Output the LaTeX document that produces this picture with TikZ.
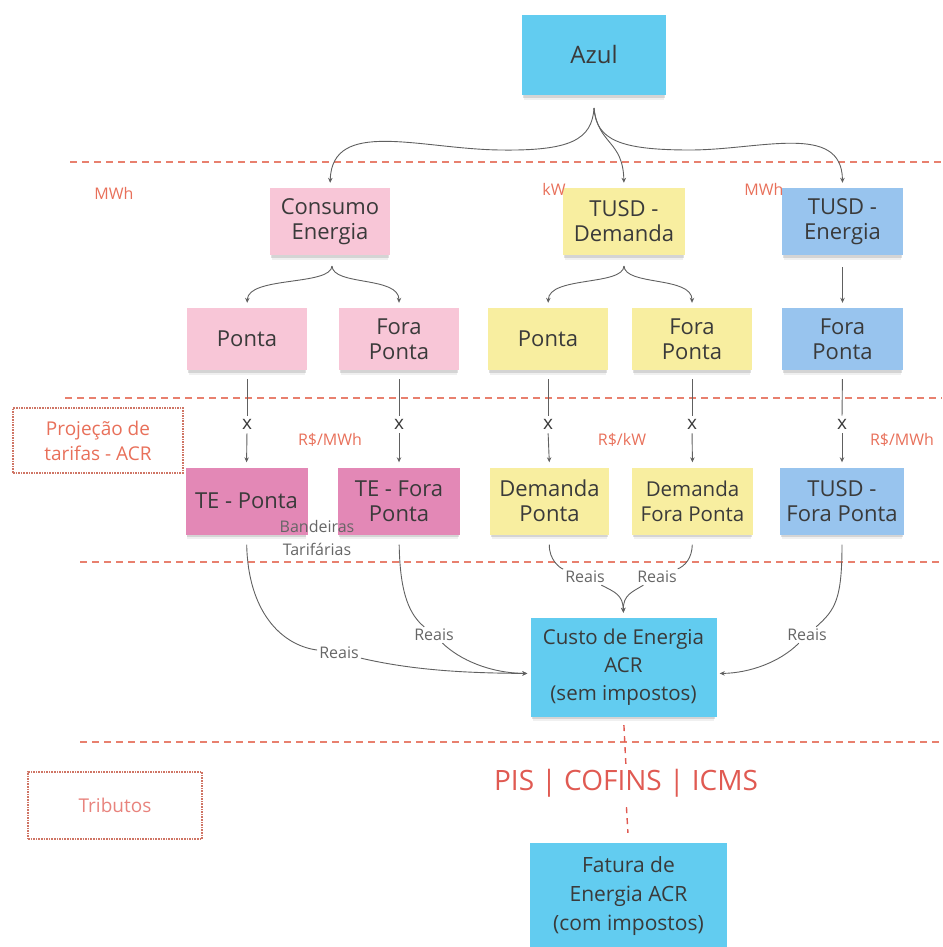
\documentclass[tikz,border=0pt]{standalone}
\usepackage{fontspec}
\setmainfont{Open Sans}
\usetikzlibrary{arrows.meta,shadows}

\definecolor{cyanbox}{HTML}{62CCF0}
\definecolor{pinkbox}{HTML}{F8C6D7}
\definecolor{magbox}{HTML}{E388B6}
\definecolor{yellowbox}{HTML}{F8EEA0}
\definecolor{bluebox}{HTML}{98C4EE}
\definecolor{ink}{HTML}{3A3A3A}
\definecolor{wire}{HTML}{606060}
\definecolor{unitred}{HTML}{E8705A}
\definecolor{sepline}{HTML}{E8806E}
\definecolor{framered}{HTML}{CF7565}
\definecolor{taxred}{HTML}{E05A52}
\definecolor{flaggray}{HTML}{666666}

\newcommand{\fs}[2]{\fontsize{#1}{#2}\selectfont}

\begin{document}
\begin{tikzpicture}[x=1pt,y=-1pt,
  note/.style={rectangle, inner sep=0pt, align=center, text=ink,
    drop shadow={shadow xshift=0pt, shadow yshift=-6pt, opacity=0.12, shadow scale=0.97},
    drop shadow={shadow xshift=0pt, shadow yshift=-3.5pt, opacity=0.25, shadow scale=0.98}},
  big/.style={font=\fs{22}{25}},
  unit/.style={text=unitred, font=\fs{16}{18}, inner sep=1pt},
  mult/.style={text=ink, font=\fs{19}{20}, inner sep=1pt},
  money/.style={text=flaggray, font=\fs{16}{18}, inner sep=2pt},
  frame/.style={draw=framered, densely dotted, line width=1.6pt, rectangle, inner sep=0pt, align=center},
  sep/.style={draw=sepline, line width=1.6pt, dash pattern=on 7pt off 5pt},
  conn/.style={draw=wire, line width=0.9pt},
  arr/.style={conn, -{Stealth[length=5pt,width=4.5pt]}, shorten >=5pt},
]
\useasboundingbox (0,0) rectangle (942,947);

% separators between the levels
\draw[sep] (70,162) -- (942,162);
\draw[sep] (65,398) -- (942,398);
\draw[sep] (80,562) -- (942,562);
\draw[sep] (80,742) -- (942,742);

% top level
\node[note, fill=cyanbox, minimum width=144pt, minimum height=80pt, font=\fs{24}{28}] (azul) at (594,55) {Azul};

% first split
\node[note, big, fill=pinkbox, minimum width=120pt, minimum height=67pt] (cons) at (330,221.5) {Consumo\\Energia};
\node[note, big, fill=yellowbox, minimum width=122pt, minimum height=67pt] (tdem) at (624,221.5) {TUSD -\\Demanda};
\node[note, big, fill=bluebox, minimum width=121pt, minimum height=67pt] (tene) at (842.5,221.5) {TUSD -\\Energia};

\node[unit] (u1) at (114,193) {MWh};
\node[unit] (u2) at (554,189) {kW};
\node[unit] (u3) at (764,189) {MWh};

% time-of-use split
\node[note, big, fill=pinkbox, minimum width=120pt, minimum height=62pt] (p1) at (247,339) {Ponta};
\node[note, big, fill=pinkbox, minimum width=120pt, minimum height=62pt] (f1) at (399,339) {Fora\\Ponta};
\node[note, big, fill=yellowbox, minimum width=120pt, minimum height=62pt] (p2) at (548,339) {Ponta};
\node[note, big, fill=yellowbox, minimum width=120pt, minimum height=62pt] (f2) at (692,339) {Fora\\Ponta};
\node[note, big, fill=bluebox, minimum width=121pt, minimum height=62pt] (f3) at (842.5,339) {Fora\\Ponta};

% tariffs
\node[note, big, fill=magbox, minimum width=122pt, minimum height=67pt] (te1) at (246.5,501) {TE - Ponta};
\node[note, big, fill=magbox, minimum width=122pt, minimum height=67pt] (te2) at (399,501) {TE - Fora\\Ponta};
\node[note, big, fill=yellowbox, minimum width=119pt, minimum height=67pt] (d1) at (549.5,501) {Demanda\\Ponta};
\node[note, fill=yellowbox, minimum width=121pt, minimum height=67pt, font=\fs{20.5}{25}] (d2) at (692.5,501) {Demanda\\Fora Ponta};
\node[note, big, fill=bluebox, minimum width=124pt, minimum height=67pt] (tf) at (842,501) {TUSD -\\Fora Ponta};

\node[frame, minimum width=170pt, minimum height=65pt, text=unitred, font=\fs{19}{25}] (proj) at (98,440.5) {Projeção de\\tarifas - ACR};
\node[unit] (u4) at (330,440) {R\$/MWh};
\node[unit] (u5) at (622,440) {R\$/kW};
\node[unit] (u6) at (902,440) {R\$/MWh};

\node[money, align=center, font=\fs{16}{23}] (flags) at (317,538) {Bandeiras\\Tarifárias};

% multiplication marks
\node[mult] (x1) at (247,424) {x};
\node[mult] (x2) at (399,424) {x};
\node[mult] (x3) at (548,424) {x};
\node[mult] (x4) at (692,424) {x};
\node[mult] (x5) at (842,424) {x};

% cost
\node[note, fill=cyanbox, minimum width=186pt, minimum height=99pt, font=\fs{20.5}{28}] (custo) at (623.5,667.5) {Custo de Energia\\ACR\\(sem impostos)};

\node[money] (r1) at (339,653) {Reais};
\node[money] (r2) at (434,635) {Reais};
\node[money] (r3) at (585,577) {Reais};
\node[money] (r4) at (657,577) {Reais};
\node[money] (r5) at (807,635) {Reais};

% taxes
\node[frame, minimum width=174pt, minimum height=67pt, text=taxred!75!white, font=\fs{19}{22}] (trib) at (115,805.5) {Tributos};
\node[text=taxred, font=\fs{28}{32}, inner sep=2pt] (pis) at (626,783) {PIS | COFINS | ICMS};
\node[note, fill=cyanbox, minimum width=197pt, minimum height=107pt, font=\fs{21}{29}] (fat) at (628.5,896.5) {Fatura de\\Energia ACR\\(com impostos)};

% branching from the top
\coordinate (azsplit) at (594,108);
\draw[arr] (azsplit) .. controls (592,140) and (570,151) .. (500,150) .. controls (420,149) and (332,118) .. (cons.north);
\draw[arr] (azsplit) .. controls (598,145) and (623,140) .. (tdem.north);
\draw[arr] (azsplit) .. controls (596,140) and (620,150) .. (690,150) .. controls (760,150) and (842,122) .. (tene.north);

\coordinate (conssplit) at (332,266);
\draw[arr] (conssplit) .. controls (331,286) and (248,276) .. (p1.north);
\draw[arr] (conssplit) .. controls (333,286) and (399,276) .. (f1.north);
\coordinate (tdemsplit) at (624,266);
\draw[arr] (tdemsplit) .. controls (623,286) and (549,276) .. (p2.north);
\draw[arr] (tdemsplit) .. controls (625,286) and (692,276) .. (f2.north);
\draw[arr, shorten <=12pt] (tene.south) -- (f3.north);

% quantity times tariff
\foreach \a/\x/\b in {p1/x1/te1, f1/x2/te2, p2/x3/d1, f2/x4/d2, f3/x5/tf}{
  \draw[conn, shorten <=9pt, shorten >=2pt] (\a.south) -- (\x.north);
  \draw[arr, shorten <=3pt] (\x.south) -- (\b.north);
}

% amounts into the cost
\draw[conn, shorten <=10pt] (te1.south) .. controls (248,610) and (280,645) .. (r1);
\draw[arr, shorten >=3pt] (r1) .. controls (420,672) and (480,673) .. ([yshift=-6pt]custo.west);
\draw[conn, shorten <=10pt] (te2.south) .. controls (400,595) and (410,615) .. (r2);
\draw[arr, shorten >=3pt] (r2) .. controls (460,660) and (490,673) .. ([yshift=-6pt]custo.west);
\draw[conn, shorten <=10pt] (d1.south) .. controls (549,560) and (560,568) .. (r3);
\draw[conn, shorten <=10pt] (d2.south) .. controls (692,558) and (685,566) .. (r4);
\draw[arr] (r3) .. controls (615,592) and (623,595) .. (custo.north);
\draw[arr] (r4) .. controls (632,592) and (623,595) .. (custo.north);
\draw[conn, shorten <=10pt] (tf.south) .. controls (842,600) and (835,610) .. (r5);
\draw[arr, shorten >=3pt] (r5) .. controls (780,662) and (750,673) .. ([yshift=-6pt]custo.east);

% taxes applied to the cost
\draw[draw=taxred, line width=1.4pt, dash pattern=on 6pt off 5pt, shorten <=8pt, shorten >=3pt] (custo.south) -- (pis.north);
\draw[draw=taxred, line width=1.4pt, dash pattern=on 6pt off 5pt, shorten <=8pt, shorten >=10pt] (pis.south) -- (fat.north);
\end{tikzpicture}
\end{document}
